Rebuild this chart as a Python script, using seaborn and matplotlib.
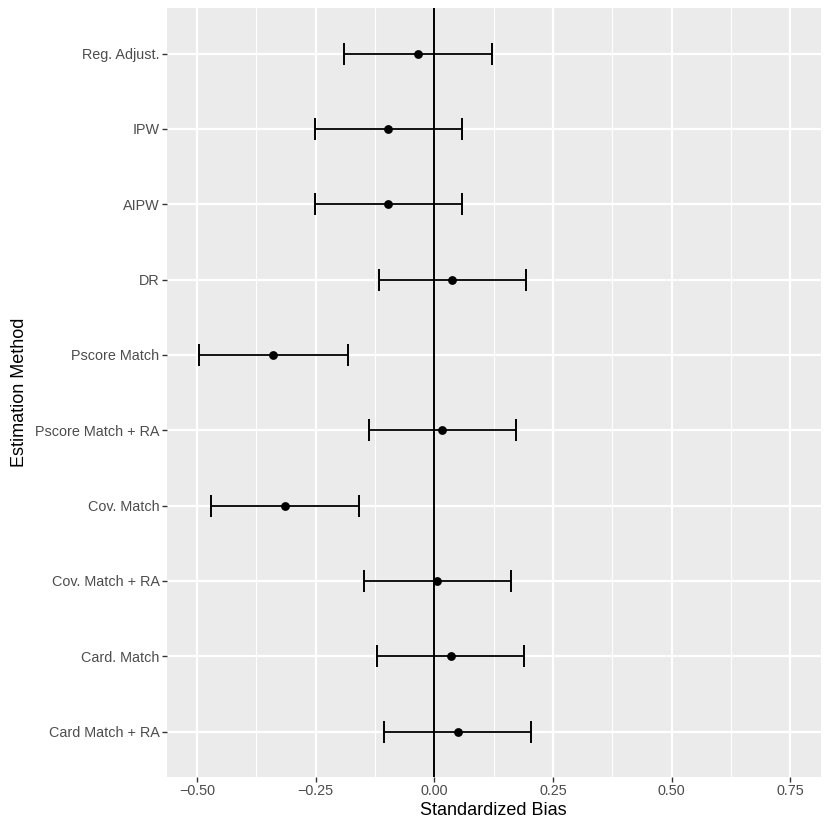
import numpy as np
import pandas as pd
import matplotlib
matplotlib.use('Agg')
import matplotlib.pyplot as plt
import matplotlib.ticker as mticker
import seaborn as sns

# data
methods = ['Reg. Adjust.', 'IPW', 'AIPW', 'DR', 'Pscore Match',
           'Pscore Match + RA', 'Cov. Match', 'Cov. Match + RA',
           'Card. Match', 'Card Match + RA']
bias = [-0.034, -0.097, -0.097, 0.038, -0.339, 0.017, -0.3145, 0.006, 0.035, 0.049]
lower = [-0.190, -0.252, -0.252, -0.117, -0.495, -0.138, -0.470, -0.149, -0.120, -0.106]
upper = [0.122, 0.059, 0.059, 0.193, -0.1825, 0.172, -0.158, 0.162, 0.190, 0.204]

df = pd.DataFrame({'method': methods, 'bias': bias, 'lo': lower, 'hi': upper})
n = len(df)
df['pos'] = np.arange(n)

sns.set_theme(style='darkgrid', rc={'axes.facecolor': '#EBEBEB', 'grid.color': 'white'})
plt.rcParams['font.family'] = ['Liberation Sans', 'DejaVu Sans']

fig = plt.figure(figsize=(8.3, 8.3), dpi=100)
ax = fig.add_axes([0.2008, 0.0642, 0.788, 0.9258])

# vertical reference line at zero
ax.axvline(0, color='black', lw=1.4, zorder=2)

# error bars + points
ax.errorbar(df['bias'], df['pos'], xerr=[df['bias'] - df['lo'], df['hi'] - df['bias']],
            fmt='none', ecolor='black', elinewidth=1.3, capsize=8, capthick=1.4, zorder=3)
sns.scatterplot(data=df, x='bias', y='pos', color='black', s=40, edgecolor='black',
                linewidth=0, ax=ax, zorder=4)

ax.set_xlim(-0.5637, 0.814)
ax.set_ylim(n - 1 + 0.6, -0.6)
ax.set_yticks(df['pos'])
ax.set_yticklabels(df['method'])
ax.xaxis.set_major_locator(mticker.MultipleLocator(0.25))
ax.xaxis.set_minor_locator(mticker.MultipleLocator(0.125))
ax.xaxis.set_major_formatter(mticker.FuncFormatter(lambda v, p: f'{v:.2f}'.replace('-', '\u2212')))

ax.grid(which='major', color='white', lw=1.6)
ax.grid(which='minor', axis='x', color='white', lw=0.8)
ax.grid(which='minor', axis='y', visible=False)
for s in ax.spines.values():
    s.set_visible(False)

ax.tick_params(axis='both', which='major', length=3.3, width=1.0, color='#333333',
               labelcolor='#4D4D4D', labelsize=10.4, pad=1.8, left=True, bottom=True)
ax.tick_params(axis='both', which='minor', length=0)

ax.set_xlabel('Standardized Bias', fontsize=13, color='black', labelpad=3)
ax.set_ylabel('Estimation Method', fontsize=13, color='black', labelpad=5)

fig.savefig('out.png', dpi=100)
